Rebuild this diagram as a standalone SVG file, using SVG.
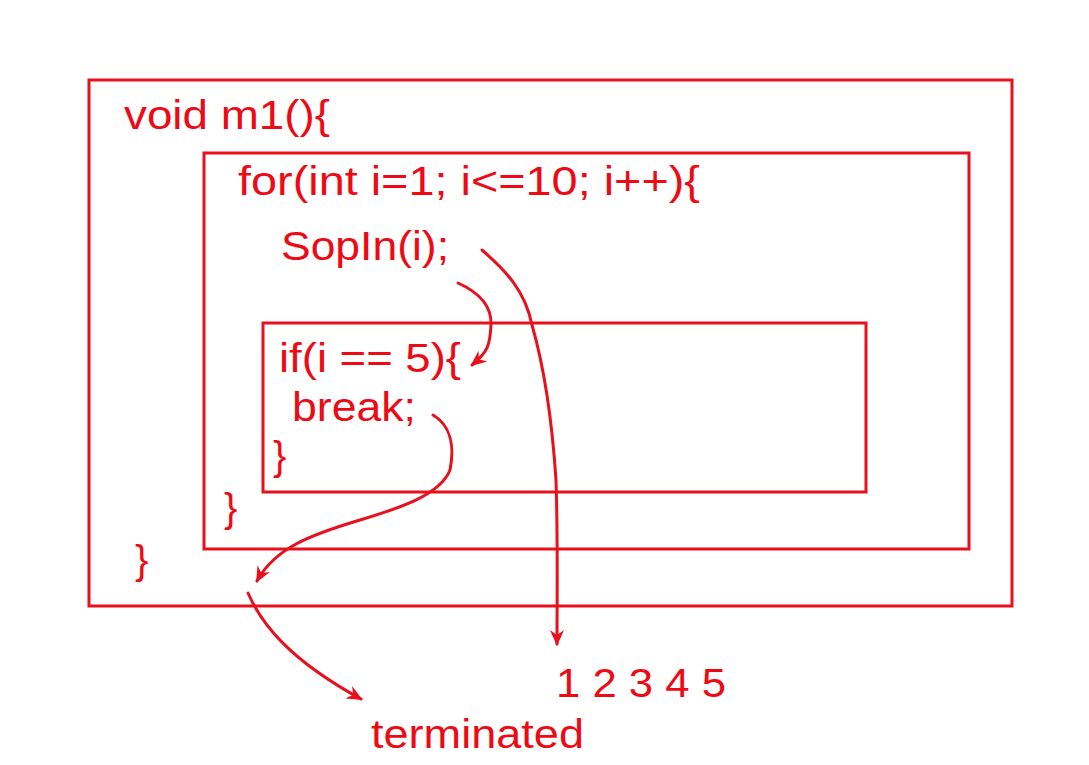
<svg xmlns="http://www.w3.org/2000/svg" width="1089" height="765" viewBox="0 0 1089 765">
<style>
.box{fill:none;stroke:#e8101c;stroke-width:3}
.t{font-family:"Liberation Sans",Arial,sans-serif;font-size:40px;fill:#ee0a14}
.c{fill:none;stroke:#e8101c;stroke-width:3;stroke-linecap:round;stroke-linejoin:round}
</style>
<defs>
<marker id="ah" viewBox="0 0 16 14" refX="14" refY="7" markerWidth="16" markerHeight="14" markerUnits="userSpaceOnUse" orient="auto" overflow="visible">
<path d="M0,0 L16,7 L0,14 L5,7 Z" fill="#e8101c"/>
</marker>
</defs>
<rect width="1089" height="765" fill="#ffffff"/>
<g id="m1">
<rect class="box" x="89" y="80" width="923" height="526"/>
<text class="t" x="124" y="129" font-size="41" textLength="206" lengthAdjust="spacingAndGlyphs">void m1(){</text>
<text class="t" x="135" y="574" font-size="44">}</text>
</g>
<g id="for">
<rect class="box" x="204" y="153" width="765" height="396"/>
<text class="t" x="238" y="195" font-size="39" textLength="462" lengthAdjust="spacingAndGlyphs">for(int i=1; i&lt;=10; i++){</text>
<text class="t" x="281" y="260" font-size="38" textLength="168" lengthAdjust="spacingAndGlyphs">SopIn(i);</text>
<text class="t" x="224" y="522" font-size="44">}</text>
</g>
<g id="if">
<rect class="box" x="263" y="323" width="603" height="169"/>
<text class="t" x="279" y="372" textLength="182" lengthAdjust="spacingAndGlyphs">if(i == 5){</text>
<text class="t" x="292" y="421" textLength="124" lengthAdjust="spacingAndGlyphs">break;</text>
<text class="t" x="273" y="470" font-size="44">}</text>
</g>
<g id="output">
<text class="t" x="556" y="697" font-size="46" textLength="170" lengthAdjust="spacingAndGlyphs">1 2 3 4 5</text>
</g>
<g id="terminated">
<text class="t" x="371" y="748" font-size="46" textLength="213" lengthAdjust="spacingAndGlyphs">terminated</text>
</g>
<g id="connectors">
<path class="c" marker-end="url(#ah)" d="M482,250 C505,270 525,290 532,325 C545,370 552,420 556,480 C558,540 557,600 557,644"/>
<path class="c" marker-end="url(#ah)" d="M458,283 C478,292 492,305 491,325 C490,345 488,352 472,365"/>
<path class="c" marker-end="url(#ah)" d="M433,415 C450,425 455,445 450,470 C440,495 400,508 360,520 C310,535 275,548 257,581"/>
<path class="c" marker-end="url(#ah)" d="M248,593 C262,625 290,660 361,699"/>
</g>
</svg>
